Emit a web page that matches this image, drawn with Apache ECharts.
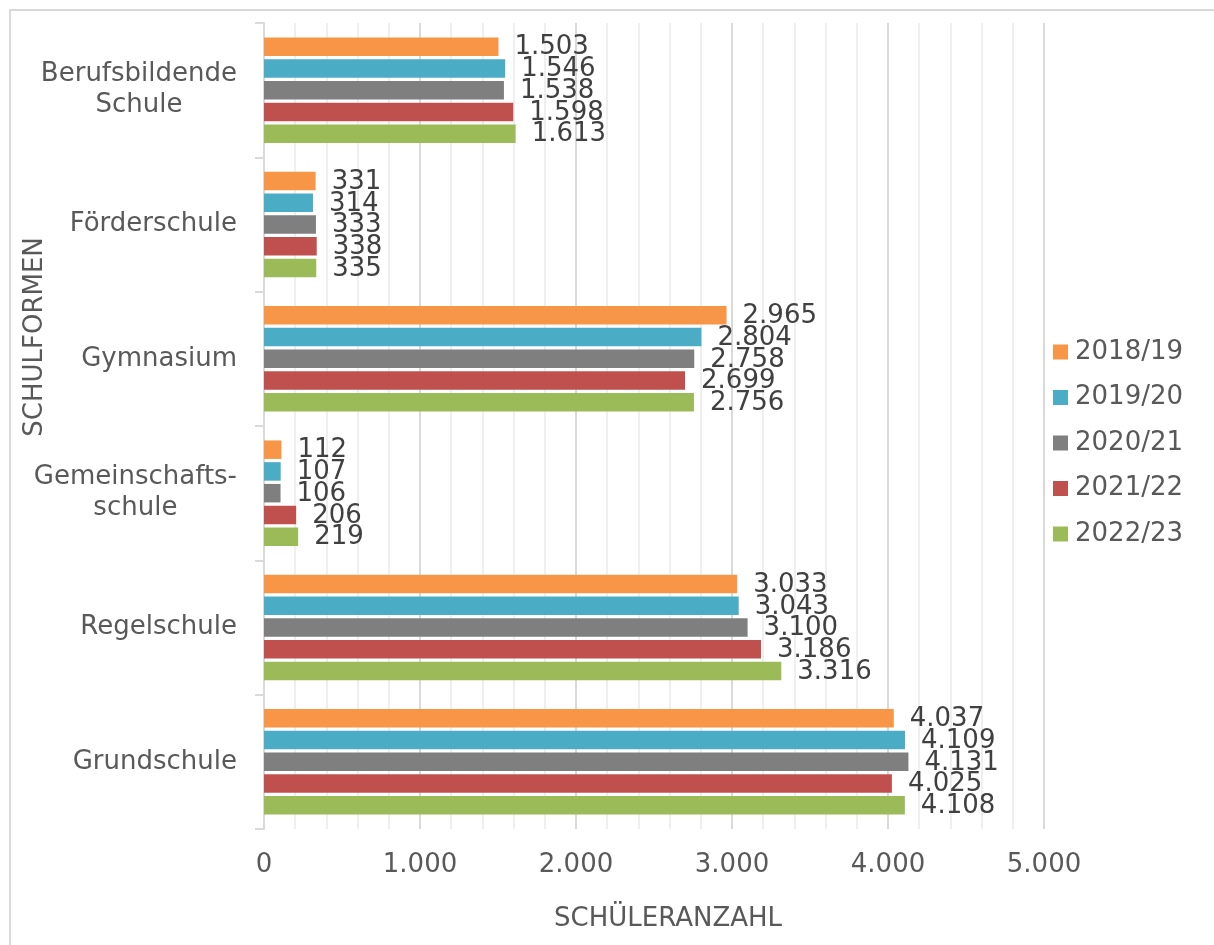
<!DOCTYPE html>
<html lang="de">
<head>
<meta charset="utf-8">
<title>Schülerzahlen nach Schulformen</title>
<script src="https://cdn.jsdelivr.net/npm/echarts@6/dist/echarts.min.js"></script>
<style>
  html, body { margin: 0; padding: 0; background: #ffffff; }
  #chart { width: 1214px; height: 945px; }
</style>
</head>
<body>
<div id="chart"></div>
<script>
// Schulformen, von unten nach oben auf der Kategorienachse
const categories = ['Grundschule', 'Regelschule', 'Gemeinschafts-\nschule', 'Gymnasium', 'Förderschule', 'Berufsbildende\nSchule'];
const years = ['2018/19', '2019/20', '2020/21', '2021/22', '2022/23'];

// Schüleranzahl je Schuljahr (gleiche Reihenfolge wie categories)
const values2018 = [4037, 3033, 112, 2965, 331, 1503];
const values2019 = [4109, 3043, 107, 2804, 314, 1546];
const values2020 = [4131, 3100, 106, 2758, 333, 1538];
const values2021 = [4025, 3186, 206, 2699, 338, 1598];
const values2022 = [4108, 3316, 219, 2756, 335, 1613];

// Achsenskala
const xMin = 0;
const xMax = 5000;
const xInterval = 1000;

const colors = ['#F79646', '#4BACC6', '#7F7F7F', '#C0504D', '#9BBB59'];
const font = 'DejaVu Sans, Verdana, sans-serif';

// Tausendertrennzeichen im deutschen Format
function fmt(v) {
  return String(v).replace(/\B(?=(\d{3})+(?!\d))/g, '.');
}

const seriesValues = [values2018, values2019, values2020, values2021, values2022];

const chart = echarts.init(document.getElementById('chart'), null, { renderer: 'canvas' });

chart.setOption({
  backgroundColor: '#ffffff',
  animation: false,
  color: colors,
  textStyle: { fontFamily: font },
  grid: { left: 264, right: 170, top: 23, bottom: 116, containLabel: false },
  legend: {
    orient: 'vertical',
    left: 1053,
    top: 339,
    padding: 0,
    itemWidth: 15,
    itemHeight: 15,
    itemGap: 19.5,
    icon: 'rect',
    data: years,
    textStyle: { fontSize: 26, color: '#595959', fontFamily: font, padding: [0, 0, 0, 2] }
  },
  xAxis: {
    type: 'value',
    min: xMin,
    max: xMax,
    interval: xInterval,
    axisLine: { show: false },
    axisTick: { show: false },
    minorTick: { show: false, splitNumber: 5 },
    axisLabel: {
      formatter: fmt,
      fontSize: 26,
      color: '#595959',
      fontFamily: font,
      margin: 23
    },
    splitLine: { show: true, lineStyle: { color: '#d9d9d9', width: 2 } },
    minorSplitLine: { show: true, lineStyle: { color: '#efefef', width: 2 } }
  },
  yAxis: {
    type: 'category',
    data: categories,
    axisLine: { show: true, lineStyle: { color: '#d9d9d9', width: 2 } },
    axisTick: { show: true, length: 9, lineStyle: { color: '#d9d9d9', width: 2 } },
    splitLine: { show: false },
    axisLabel: {
      margin: 27,
      fontSize: 26,
      color: '#595959',
      fontFamily: font,
      lineHeight: 31,
      formatter: function (v) {
        return v.split('\n').map(function (s) { return '{c|' + s + '}'; }).join('\n');
      },
      rich: {
        c: { align: 'center', fontSize: 26, color: '#595959', fontFamily: font, lineHeight: 31 }
      }
    }
  },
  series: years.map(function (name, i) {
    return {
      name: name,
      type: 'bar',
      data: seriesValues[i],
      barWidth: 18.5,
      barGap: '17.5%',
      itemStyle: { color: colors[i] },
      label: {
        show: true,
        position: 'right',
        distance: 16,
        offset: [0, 1],
        fontSize: 26,
        color: '#404040',
        fontFamily: font,
        formatter: function (p) { return fmt(p.value); }
      }
    };
  }),
  graphic: [
    {
      type: 'line',
      shape: { x1: 9, y1: 10, x2: 1214, y2: 10 },
      style: { stroke: '#d9d9d9', lineWidth: 2 },
      silent: true
    },
    {
      type: 'line',
      shape: { x1: 10, y1: 9, x2: 10, y2: 945 },
      style: { stroke: '#d9d9d9', lineWidth: 2 },
      silent: true
    },
    {
      type: 'text',
      x: 35,
      y: 337,
      rotation: Math.PI / 2,
      style: {
        text: 'SCHULFORMEN',
        fontSize: 26,
        fontFamily: font,
        fill: '#595959',
        align: 'center',
        verticalAlign: 'middle'
      },
      silent: true
    },
    {
      type: 'text',
      x: 668,
      y: 919,
      style: {
        text: 'SCHÜLERANZAHL',
        fontSize: 26,
        fontFamily: font,
        fill: '#595959',
        align: 'center',
        verticalAlign: 'middle'
      },
      silent: true
    }
  ]
});
</script>
</body>
</html>
